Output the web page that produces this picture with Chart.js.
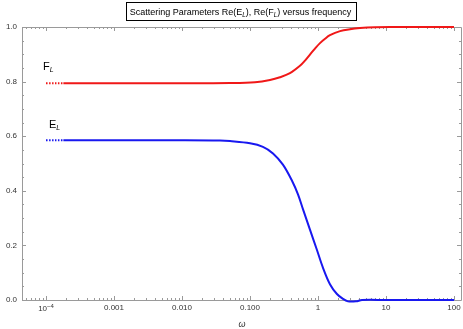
<!DOCTYPE html>
<html>
<head>
<meta charset="utf-8">
<script src="https://cdn.jsdelivr.net/npm/chart.js@4/dist/chart.umd.min.js"></script>
<style>
html,body{margin:0;padding:0;background:#fff;}
#wrap{position:relative;width:463px;height:329px;}
</style>
</head>
<body>
<div id="wrap"><canvas id="c" width="463" height="329"></canvas></div>
<script>
// ---- data ----
const omegaF = [1e-4, 1.8e-4, 0.001, 0.01, 0.0508, 0.1186, 0.197, 0.276, 0.387, 0.543, 0.644, 0.762, 0.904, 1.07, 1.27, 1.50, 2.11, 2.96, 4.15, 6.89, 11.5, 100];
const reF    = [0.794, 0.794, 0.794, 0.794, 0.795, 0.798, 0.806, 0.816, 0.831, 0.858, 0.877, 0.899, 0.921, 0.941, 0.957, 0.970, 0.985, 0.992, 0.996, 0.999, 1.0, 1.0];
const omegaE = [1e-4, 1.8e-4, 0.001, 0.01, 0.0362, 0.0508, 0.1, 0.155, 0.218, 0.305, 0.415, 0.508, 0.601, 0.762, 0.966, 1.185, 1.50, 1.90, 2.33, 2.76, 3.62, 4.44, 10, 100];
const reE    = [0.585, 0.585, 0.585, 0.585, 0.584, 0.582, 0.574, 0.561, 0.537, 0.496, 0.437, 0.387, 0.333, 0.258, 0.183, 0.118, 0.058, 0.022, 0.004, -0.005, -0.005, 0.0, 0.0, 0.0];
const xTickValues = [1e-4, 1e-3, 1e-2, 0.1, 1, 10, 100];
const xTickLabels = ['10|-4', '0.001', '0.010', '0.100', '1', '10', '100'];
const yTickValues = [0, 0.2, 0.4, 0.6, 0.8, 1.0];
const yTickLabels = ['0.0', '0.2', '0.4', '0.6', '0.8', '1.0'];
const xMin = Math.pow(10, -4.353), xMax = Math.pow(10, 2.118);

const toPts = (xs, ys) => xs.map((x, i) => ({x: x, y: ys[i]}));
const FRAME = '#9a9a9a';
const TXT = '#333';
const FONT = '"Liberation Sans", Arial, sans-serif';

const decor = {
  id: 'decor',
  beforeDatasetsDraw(chart) {
    const ctx = chart.ctx, a = chart.chartArea, xs = chart.scales.x, ys = chart.scales.y;
    ctx.save();
    ctx.strokeStyle = FRAME;
    ctx.lineWidth = 1;
    ctx.beginPath();
    ctx.rect(Math.round(a.left) + 0.5, Math.round(a.top) + 0.5, Math.round(a.right - a.left) - 1, Math.round(a.bottom - a.top));
    ctx.stroke();
    ctx.beginPath();
    for (let k = -5; k <= 2; k++) {
      for (let m = 1; m <= 9; m++) {
        const v = m * Math.pow(10, k);
        if (v < xMin || v > xMax) continue;
        const px = Math.round(xs.getPixelForValue(v)) + 0.5;
        const len = m === 1 ? 4 : 2;
        ctx.moveTo(px, a.bottom); ctx.lineTo(px, a.bottom - len);
        ctx.moveTo(px, a.top); ctx.lineTo(px, a.top + len);
      }
    }
    for (let i = 0; i <= 20; i++) {
      const v = i * 0.05;
      const py = Math.round(ys.getPixelForValue(v)) + 0.5;
      const len = (i % 4 === 0) ? 4 : 2;
      ctx.moveTo(a.left, py); ctx.lineTo(a.left + len, py);
      ctx.moveTo(a.right - 1, py); ctx.lineTo(a.right - 1 - len, py);
    }
    ctx.stroke();
    ctx.restore();
  },
  afterDraw(chart) {
    const ctx = chart.ctx, a = chart.chartArea, xs = chart.scales.x, ys = chart.scales.y;
    ctx.save();
    ctx.fillStyle = TXT;
    ctx.font = '8px ' + FONT;
    ctx.textBaseline = 'middle';
    // x tick labels
    xTickValues.forEach((v, i) => {
      const px = xs.getPixelForValue(v);
      const lab = xTickLabels[i];
      if (lab.indexOf('|') >= 0) {
        const [base, sup] = lab.split('|');
        ctx.font = '8px ' + FONT;
        const wb = ctx.measureText(base).width;
        ctx.font = '6px ' + FONT;
        const ws = ctx.measureText('\u2212' + sup.slice(1)).width;
        const x0 = px - (wb + ws) / 2;
        ctx.textAlign = 'left';
        ctx.font = '8px ' + FONT;
        ctx.fillText(base, x0, a.bottom + 9);
        ctx.font = '6px ' + FONT;
        ctx.fillText('\u2212' + sup.slice(1), x0 + wb, a.bottom + 6);
        ctx.font = '8px ' + FONT;
      } else {
        ctx.textAlign = 'center';
        ctx.fillText(lab, px, a.bottom + 8);
      }
    });
    // y tick labels
    ctx.textAlign = 'right';
    yTickValues.forEach((v, i) => {
      ctx.fillText(yTickLabels[i], a.left - 5, ys.getPixelForValue(v));
    });
    // axis label
    ctx.textAlign = 'center';
    ctx.font = 'italic 9px ' + FONT;
    ctx.fillText('\u03c9', (a.left + a.right) / 2, 324);
    // series labels
    ctx.fillStyle = '#000';
    ctx.textAlign = 'left';
    ctx.textBaseline = 'alphabetic';
    const sub = (main, s, x, y) => {
      ctx.font = '11px ' + FONT;
      ctx.fillText(main, x, y);
      const w = ctx.measureText(main).width;
      ctx.font = 'italic 7px ' + FONT;
      ctx.fillText(s, x + w, y + 2);
    };
    sub('F', 'L', 43, 70);
    sub('E', 'L', 49, 128);
    // title box
    const parts = [['Scattering Parameters Re(E', 0], ['L', 1], ['), Re(F', 0], ['L', 1], [') versus frequency', 0]];
    const fs = 9;
    let total = 0;
    parts.forEach(p => { ctx.font = (p[1] ? 'italic ' + (fs * 0.7).toFixed(1) : fs) + 'px ' + FONT; total += ctx.measureText(p[0]).width; });
    const cx = 240.5, by = 15;
    ctx.strokeStyle = '#000';
    ctx.lineWidth = 1;
    ctx.strokeRect(Math.round(cx - total / 2 - 4) + 0.5, 2.5, Math.round(total + 8), 18);
    let x = cx - total / 2;
    parts.forEach(p => {
      ctx.font = (p[1] ? 'italic ' + (fs * 0.7).toFixed(1) : fs) + 'px ' + FONT;
      ctx.fillText(p[0], x, p[1] ? by + 2 : by);
      x += ctx.measureText(p[0]).width;
    });
    ctx.restore();
  }
};

const dotStart = ctx => (ctx.p0.parsed.x < 1.7e-4 ? [1.5, 1.5] : undefined);

new Chart(document.getElementById('c'), {
  type: 'line',
  data: {
    datasets: [
      { label: 'F', data: toPts(omegaF, reF), borderColor: '#f01818', borderWidth: 2, pointRadius: 0, tension: 0.35, clip: 5, segment: { borderDash: dotStart } },
      { label: 'E', data: toPts(omegaE, reE), borderColor: '#1818f0', borderWidth: 2, pointRadius: 0, tension: 0.35, clip: 5, segment: { borderDash: dotStart } }
    ]
  },
  options: {
    responsive: false,
    animation: false,
    devicePixelRatio: 1,
    layout: { padding: { left: 22, right: 1, top: 27, bottom: 29 } },
    plugins: { legend: { display: false }, tooltip: { enabled: false }, title: { display: false } },
    scales: {
      x: { type: 'logarithmic', min: xMin, max: xMax, display: false },
      y: { type: 'linear', min: 0, max: 1, display: false }
    }
  },
  plugins: [decor]
});
</script>
</body>
</html>
